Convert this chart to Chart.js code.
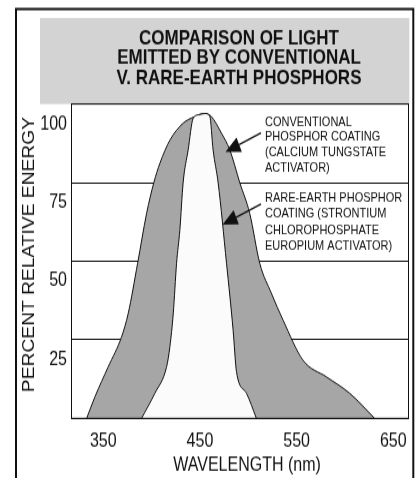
<!DOCTYPE html>
<html>
<head>
<meta charset="utf-8">
<script src="https://cdn.jsdelivr.net/npm/chart.js@4/dist/chart.umd.min.js"></script>
<style>
html,body{margin:0;padding:0;background:#fff;overflow:hidden}
#wrap{width:417px;height:478px;position:relative;overflow:hidden;background:#fff}
#c{position:absolute;left:0;top:0;width:417px;height:398px;transform:scaleY(1.20101);transform-origin:0 0}
</style>
</head>
<body>
<div id="wrap"><canvas id="c" width="417" height="398"></canvas></div>
<script>
// ---- text ----
const titleLines = ['COMPARISON OF LIGHT', 'EMITTED BY CONVENTIONAL', 'V. RARE-EARTH PHOSPHORS'];
const xAxisTitle = 'WAVELENGTH (nm)';
const yAxisTitle = 'PERCENT RELATIVE ENERGY';
const conventionalNote = ['CONVENTIONAL', 'PHOSPHOR COATING', '(CALCIUM TUNGSTATE', 'ACTIVATOR)'];
const rareEarthNote = ['RARE-EARTH PHOSPHOR', 'COATING (STRONTIUM', 'CHLOROPHOSPHATE', 'EUROPIUM ACTIVATOR)'];

// ---- ticks ----
const xTicks = [350, 450, 550, 650];
const yTicks = [0, 25, 50, 75, 100];

// ---- series (wavelength nm, percent relative energy) ----
const conventionalWavelength = [332.8, 341.4, 355.1, 369.0, 375.8, 385.5, 394.8, 402.3, 408.5, 418.9, 432.6, 444.0, 455.0, 461.9, 472.3, 480.9, 491.2, 501.5, 511.9, 523.9, 535.9, 556.6, 580.8, 604.8, 630.7];
const conventionalEnergy     = [0,     6.9,   16.4,  26.0,  33.4,  49.3,  65.2,  75.0,  81.1,  88.5,  93.9,  95.9,  97.0,  96.0,  90.7,  85.4,  75.0,  65.2,  49.3,  39.8,  31.3,  18.5,  13.2,  8.0,   0];

const rareEarthWavelength = [389.6, 403.4, 415.5, 418.9, 422.4, 425.8, 429.2, 432.6, 437.8, 442.9, 449.0, 455.0, 460.2, 463.6, 468.8, 477.5, 484.3, 487.8, 498.1, 508.4];
const rareEarthEnergy     = [0,     8.0,   16.4,  22.8,  33.4,  49.3,  59.9,  75.0,  85.4,  95.4,  96.6,  97.0,  96.1,  85.4,  75.0,  49.3,  28.1,  14.8,  8.0,   0];

const FONT = 'Arial, "Liberation Sans", Helvetica, sans-serif';
Chart.defaults.font.family = FONT;
Chart.defaults.color = '#111';

const toPoints = (xs, ys) => xs.map((x, i) => ({x: x, y: ys[i]}));

const decor = {
  id: 'decor',
  beforeDraw(chart) {
    const ctx = chart.ctx, a = chart.chartArea;
    ctx.save();
    ctx.fillStyle = '#fff';
    ctx.fillRect(0, 0, chart.width, chart.height);
    // grey title band
    ctx.fillStyle = '#d3d3d3';
    ctx.fillRect(40, 15, 369.3, a.top - 15);
    // plot background
    ctx.fillStyle = '#fff';
    ctx.fillRect(a.left, a.top, a.right - a.left, a.bottom - a.top);
    // outer frame
    ctx.strokeStyle = '#111';
    ctx.lineWidth = 2;
    ctx.beginPath();
    ctx.moveTo(16, chart.height + 10);
    ctx.lineTo(16, 7.5);
    ctx.lineTo(413.3, 7.5);
    ctx.lineTo(413.3, chart.height + 10);
    ctx.stroke();
    ctx.restore();
  },
  afterDatasetsDraw(chart) {
    const ctx = chart.ctx, a = chart.chartArea;
    ctx.save();
    ctx.strokeStyle = '#111';
    ctx.lineWidth = 1;
    ctx.strokeRect(Math.round(a.left) + 0.5, a.top, Math.round(a.right - a.left), a.bottom - a.top);
    ctx.restore();
  },
  afterDraw(chart) {
    const ctx = chart.ctx;
    ctx.save();
    ctx.fillStyle = '#111';
    // title
    ctx.font = 'bold 17px ' + FONT;
    ctx.textAlign = 'center';
    ctx.textBaseline = 'middle';
    const ty = [31.9, 48.3, 64.9];
    titleLines.forEach((t, i) => ctx.fillText(t, 239, ty[i]));
    // axis titles
    ctx.font = '16px ' + FONT;
    ctx.fillText(xAxisTitle, 247, 387.2);
    ctx.save();
    ctx.translate(29.2, 211.9);
    ctx.rotate(-Math.PI / 2);
    ctx.fillText(yAxisTitle, 0, 0);
    ctx.restore();
    // annotations
    ctx.font = '11px ' + FONT;
    ctx.textAlign = 'left';
    conventionalNote.forEach((t, i) => ctx.fillText(t, 265, 101.6 + i * 12.7));
    rareEarthNote.forEach((t, i) => ctx.fillText(t, 265, 165.1 + i * 13.3));
    const arrow = (x0, y0, x1, y1) => {
      const ang = Math.atan2(y1 - y0, x1 - x0);
      const L = 15, W = 6.5;
      const bx = x1 - L * Math.cos(ang), by = y1 - L * Math.sin(ang);
      ctx.strokeStyle = '#111';
      ctx.lineWidth = 1.4;
      ctx.beginPath();
      ctx.moveTo(x0, y0);
      ctx.lineTo(bx, by);
      ctx.stroke();
      ctx.beginPath();
      ctx.moveTo(x1, y1);
      ctx.lineTo(bx + W * Math.sin(ang), by - W * Math.cos(ang));
      ctx.lineTo(bx - W * Math.sin(ang), by + W * Math.cos(ang));
      ctx.closePath();
      ctx.fill();
    };
    arrow(261, 110.7, 225.5, 126.6);
    arrow(261, 169.9, 222.5, 186.9);
    ctx.restore();
  }
};

new Chart(document.getElementById('c'), {
  type: 'line',
  data: {
    datasets: [
      {
        label: 'Rare-earth phosphor coating',
        data: toPoints(rareEarthWavelength, rareEarthEnergy),
        borderColor: '#111',
        borderWidth: 1,
        backgroundColor: '#fbfbfb',
        fill: 'origin',
        pointRadius: 0,
        cubicInterpolationMode: 'monotone',
        order: 0
      },
      {
        label: 'Conventional phosphor coating',
        data: toPoints(conventionalWavelength, conventionalEnergy),
        borderColor: '#111',
        borderWidth: 1,
        backgroundColor: '#a6a6a6',
        fill: 'origin',
        pointRadius: 0,
        cubicInterpolationMode: 'monotone',
        order: 1
      }
    ]
  },
  options: {
    responsive: false,
    animation: false,
    devicePixelRatio: 1,
    events: [],
    layout: {padding: {left: 0, top: 86.6, right: 8.5, bottom: 0}},
    plugins: {legend: {display: false}, tooltip: {enabled: false}, title: {display: false}},
    scales: {
      x: {
        type: 'linear',
        min: 316.6,
        max: 665.3,
        afterBuildTicks: s => { s.ticks = xTicks.map(v => ({value: v})); },
        afterFit: s => { s.height = 49.7; },
        grid: {display: false, drawTicks: false},
        border: {display: true, color: '#111', width: 1},
        ticks: {font: {size: 16}, color: '#111', padding: 10, maxRotation: 0, autoSkip: false}
      },
      y: {
        min: 0,
        max: 100,
        afterBuildTicks: s => { s.ticks = yTicks.map(v => ({value: v})); },
        afterFit: s => { s.width = 71; },
        grid: {color: '#111', lineWidth: 1, drawTicks: false},
        border: {display: true, color: '#111', width: 1},
        ticks: {
          font: {size: 16}, color: '#111', padding: 4, labelOffset: 16.5,
          callback: v => (v === 0 ? '' : String(v))
        }
      }
    }
  },
  plugins: [decor]
});
</script>
</body>
</html>
